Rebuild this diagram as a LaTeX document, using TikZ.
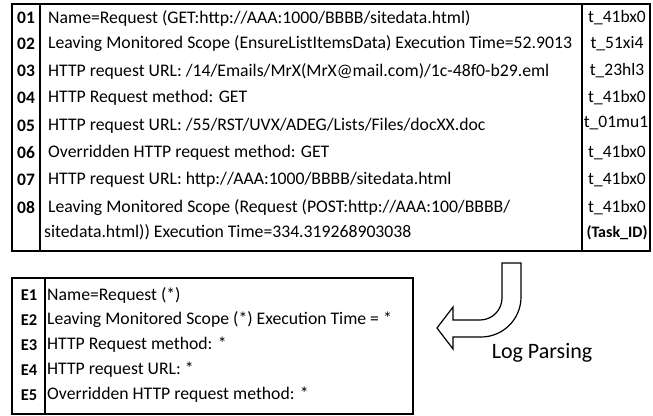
\documentclass[tikz,border=0pt]{standalone}
\usepackage{fontspec}
\setmainfont{Carlito}
\begin{document}
\begin{tikzpicture}[x=1pt,y=-1pt,
  frame/.style={draw=black,line width=1.8pt},
  rule/.style={draw=black,line width=1.5pt},
  idx/.style={anchor=center,inner sep=0pt,font=\fontsize{17.5}{20}\selectfont\bfseries},
  msg/.style={anchor=west,inner sep=0pt,font=\fontsize{17.7}{21}\selectfont},
  tid/.style={anchor=center,inner sep=0pt,font=\fontsize{17.5}{20}\selectfont},
  idxs/.style={idx,font=\fontsize{16.5}{19}\selectfont\bfseries},
  msgs/.style={msg,font=\fontsize{17.7}{20}\selectfont},
  turn/.style={draw=black,line width=1.2pt,fill=white,line join=miter}]
\useasboundingbox (0,0) rectangle (653,415);

% raw log table
\draw[frame] (12,4) rectangle (650,251);
\draw[rule] (40,4) -- (40,251);
\draw[rule] (582,4) -- (582,251);

\foreach \n/\y/\t/\id in {
  01/18/{Name=Request (GET:http://AAA:1000/BBBB/sitedata.html)}/t\_41bx0,
  02/44/{Leaving Monitored Scope (EnsureListItemsData) Execution Time=52.9013}/t\_51xi4,
  03/71/{HTTP request URL: /14/Emails/MrX(MrX@mail.com)/1c-48f0-b29.eml}/t\_23hl3,
  04/98/{HTTP Request method: GET}/t\_41bx0,
  06/153/{Overridden HTTP request method: GET}/t\_41bx0,
  07/180/{HTTP request URL: http://AAA:1000/BBBB/sitedata.html}/t\_41bx0}{
  \node[idx] (n\n) at (26,\y) {\n};
  \node[msg] (m\n) at (48,\y) {\t};
  \node[tid] (t\n) at (617,\y) {\id};
}
\node[idx] (n05) at (26,126) {05};
\node[msg] (m05) at (48,126) {HTTP request URL: /55/RST/UVX/ADEG/Lists/Files/docXX.doc};
\node[tid] (t05) at (616,123) {t\_01mu1};
\node[idx] (n08) at (26,208) {08};
\node[msg] (m08a) at (48,208) {Leaving Monitored Scope (Request (POST:http://AAA:100/BBBB/};
\node[msg] (m08b) at (44,232) {sitedata.html)) Execution Time=334.319268903038};
\node[tid] (t08) at (617,208) {t\_41bx0};
\node[anchor=center,inner sep=0pt,font=\fontsize{16}{19}\selectfont\bfseries] (tcap) at (617,233) {(Task\_ID)};

% event template table
\draw[frame] (12,278) rectangle (413,414);
\draw[rule] (45,278) -- (45,414);
\foreach \n/\y/\t in {
  E1/295/{Name=Request (*)},
  E2/320/{Leaving Monitored Scope (*) Execution Time = *},
  E3/345/{HTTP Request method: *},
  E4/370/{HTTP request URL: *},
  E5/395/{Overridden HTTP request method: *}}{
  \node[idxs] (e\n) at (29,\y) {\n};
  \node[msgs] (f\n) at (47,\y) {\t};
}

% curved parsing arrow
\draw[turn] (502,263) -- (521,263) -- (521,297)
  arc[start angle=0,end angle=90,radius=40] -- (453,337) -- (453,349)
  -- (437,328) -- (453,307) -- (453,320) -- (480,320)
  arc[start angle=90,end angle=0,radius=22] -- cycle;
\node[anchor=center,inner sep=0pt,font=\fontsize{22}{26}\selectfont] (lp) at (542,353) {Log Parsing};
\end{tikzpicture}
\end{document}
